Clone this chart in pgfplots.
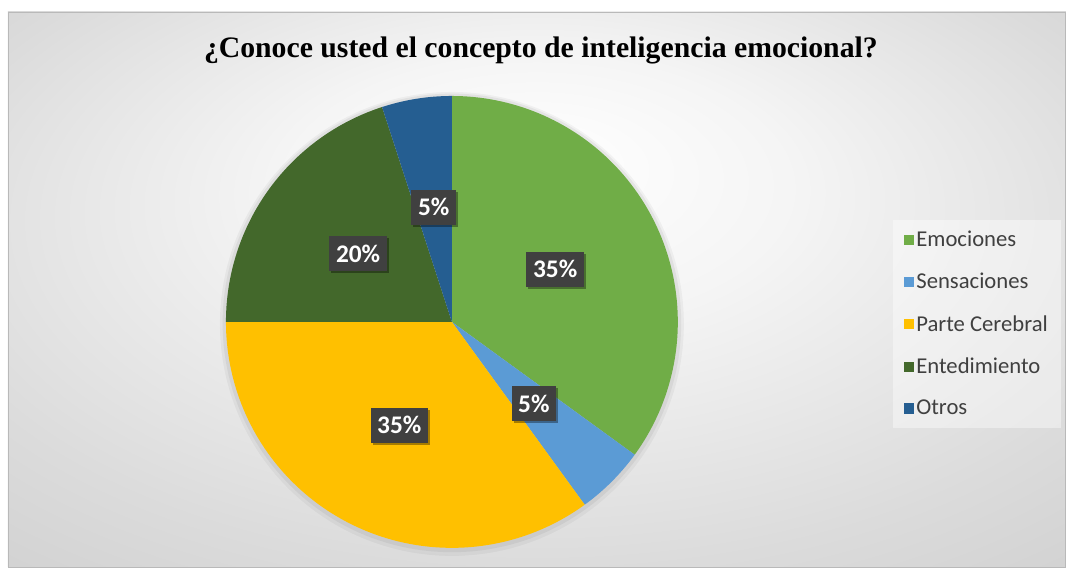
\documentclass[border=0pt]{standalone}
\usepackage{pgfplots}
\pgfplotsset{compat=1.18}
\usepackage{pgfplotstable}
\usepackage{fontspec}
\setmainfont{Carlito}
\newfontfamily\titlefont{Liberation Serif}
\usetikzlibrary{shadows}

\definecolor{cEmo}{HTML}{70AD47}
\definecolor{cSen}{HTML}{5B9BD5}
\definecolor{cPar}{HTML}{FFC000}
\definecolor{cEnt}{HTML}{43682B}
\definecolor{cOtr}{HTML}{255E91}
\definecolor{lblbg}{HTML}{404040}
\definecolor{legtext}{HTML}{404040}

% porcentajes de cada respuesta
\pgfplotstableread[col sep=comma]{
label,value,color
Emociones,35,cEmo
Sensaciones,5,cSen
Parte Cerebral,35,cPar
Entedimiento,20,cEnt
Otros,5,cOtr
}\piedata

\pgfdeclareradialshading{chartbg}{\pgfpoint{0bp}{12bp}}{%
  color(0bp)=(white); color(12bp)=(white!96!black); color(30bp)=(white!86!black); color(50bp)=(white!77!black)}

\tikzset{lbl/.style={fill=lblbg, text=white, font=\bfseries\fontsize{19}{21}\selectfont,
  inner xsep=5pt, inner ysep=6.5pt,
  drop shadow={shadow xshift=1.5pt, shadow yshift=-1.5pt, opacity=0.35, fill=black}}}

\begin{document}
\begin{tikzpicture}
\begin{axis}[
    x=0.75pt, y=0.75pt,
    xmin=0, xmax=1066, ymin=0, ymax=567,
    hide axis, clip=false,
    legend cell align=left,
    legend style={at={(axis cs:893,347)}, anchor=north west, draw=none,
      fill=white, fill opacity=0.4, text opacity=1, text=legtext,
      font=\fontsize{17}{20}\selectfont, row sep=14.5pt,
      inner xsep=8pt, inner ysep=6pt},
    legend image code/.code={\fill[#1, fill opacity=1] (0pt,-3.8pt) rectangle (7.5pt,3.8pt);},
]
% fondo
\fill[white] (axis cs:0,0) rectangle (axis cs:1066,567);
\shade[shading=chartbg, draw=gray!55] (axis cs:8,0) rectangle (axis cs:1066,555);
\node[anchor=base, font=\titlefont\bfseries\fontsize{22.3}{26}\selectfont]
  at (axis cs:541,509) {¿Conoce usted el concepto de inteligencia emocional?};
% sombra suave del pastel
\fill[black, opacity=0.04] (axis cs:452,243) circle[radius=174pt];
\fill[black, opacity=0.05] (axis cs:452,244) circle[radius=172pt];

\pgfplotstablegetrowsof{\piedata}
\pgfmathtruncatemacro\nrows{\pgfplotsretval-1}
\xdef\angA{90}
\pgfplotsforeachungrouped \i in {0,...,\nrows}{
  \pgfplotstablegetelem{\i}{value}\of\piedata \let\val\pgfplotsretval
  \pgfplotstablegetelem{\i}{color}\of\piedata \let\col\pgfplotsretval
  \pgfplotstablegetelem{\i}{label}\of\piedata \let\lab\pgfplotsretval
  \pgfmathsetmacro\angB{\angA-3.6*\val}
  \edef\temp{
    \noexpand\addplot[fill=\col, draw=none, domain=\angB:\angA, samples=90]
      ({452+226*cos(x)}, {245+226*sin(x)}) -- (axis cs:452,245) -- cycle;
    \noexpand\addlegendentry{\lab}
  }
  \temp
  \global\let\angA\angB
}

\xdef\angA{90}
\pgfplotsforeachungrouped \i in {0,...,\nrows}{
  \pgfplotstablegetelem{\i}{value}\of\piedata \let\val\pgfplotsretval
  \pgfmathsetmacro\angB{\angA-3.6*\val}
  \pgfmathsetmacro\angM{(\angA+\angB)/2}
  \edef\temp{
    \noexpand\node[lbl] at (axis cs:{452+116*cos(\angM)},{245+116*sin(\angM)})
      {\val\noexpand\%};
  }
  \temp
  \global\let\angA\angB
}
\end{axis}
\end{tikzpicture}
\end{document}
